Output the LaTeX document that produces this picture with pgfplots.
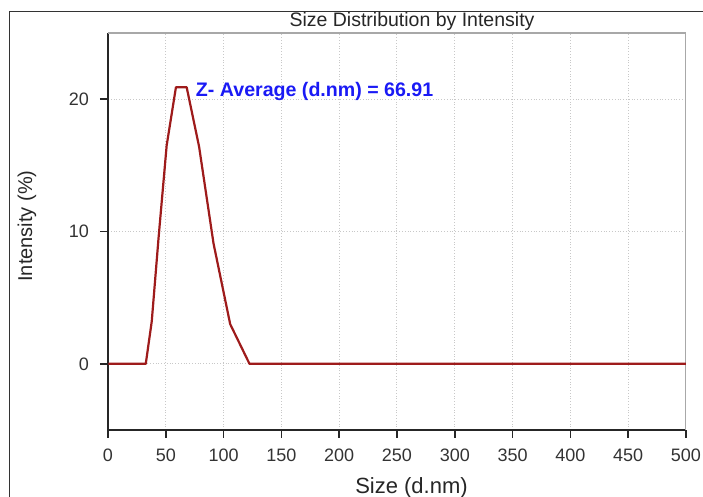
\documentclass[border=0pt]{standalone}
\usepackage{fontspec}
\setmainfont{Liberation Sans}
\usepackage{pgfplots}
\pgfplotsset{compat=1.18}
\definecolor{cLine}{HTML}{9E1B1B}
\definecolor{cBlue}{HTML}{1A1AF5}
\definecolor{cGrid}{HTML}{C8C8C8}
\definecolor{cFrame}{HTML}{A8A8A8}

\begin{document}
\begin{tikzpicture}
% page = 703 x 497 px, 1 px = 0.5pt
\useasboundingbox (0,0) rectangle (351.5pt,248.5pt);
\draw[black!80, line width=0.7pt] (4.6pt,-1pt) -- (4.6pt,242.6pt) -- (352pt,242.6pt);

\begin{axis}[
  scale only axis,
  width=289pt, height=198.5pt,
  at={(54pt,33.5pt)}, anchor=south west,
  xmin=0, xmax=500, ymin=-5, ymax=25,
  xtick={0,50,...,500},
  ytick={0,10,20},
  axis lines*=left,
  axis line style={-, line width=0.8pt, black!85},
  tick align=outside,
  major tick length=4pt,
  tick style={black!85, line width=0.8pt},
  xmajorgrids, ymajorgrids,
  grid style={densely dotted, cGrid, line width=0.5pt},
  tick label style={font=\fontsize{9}{10}\selectfont, black!80},
  /pgf/number format/assume math mode=true,
  xticklabel style={yshift=-2pt},
  yticklabel style={xshift=-2pt},
  clip=true,
]
\draw[cFrame, line width=0.7pt] (rel axis cs:0,1) -- (rel axis cs:1,1) -- (rel axis cs:1,0);
\addplot[cLine, line width=1.1pt, line join=round] coordinates {
  (0.4,0) (13.54,0) (18.17,0) (21.04,0) (24.36,0) (28.21,0) (32.67,0)
  (37.84,3.2) (43.82,9.6) (50.75,16.5) (58.77,20.9) (68.06,20.9)
  (78.82,16.4) (91.28,9.1) (105.7,3.0) (122.4,0) (141.8,0) (164.2,0)
  (190.1,0) (220.2,0) (255.0,0) (295.3,0) (342.0,0) (396.1,0)
  (458.7,0) (531.2,0)
};
\node[anchor=west, text=cBlue, font=\fontsize{9.8}{11}\selectfont\bfseries]
  at (axis cs:70,20.6) {Z- Average (d.nm) = 66.91};
\end{axis}

\node[font=\fontsize{9.75}{11}\selectfont, text=black!85] at (206pt,237.8pt)
  {Size Distribution by Intensity};
\node[font=\fontsize{10}{12}\selectfont, text=black!85, rotate=90] at (13.5pt,135.5pt)
  {Intensity (\%)};
\node[font=\fontsize{11}{13}\selectfont, text=black!85] at (205.75pt,4.5pt)
  {Size (d.nm)};
\end{tikzpicture}
\end{document}
